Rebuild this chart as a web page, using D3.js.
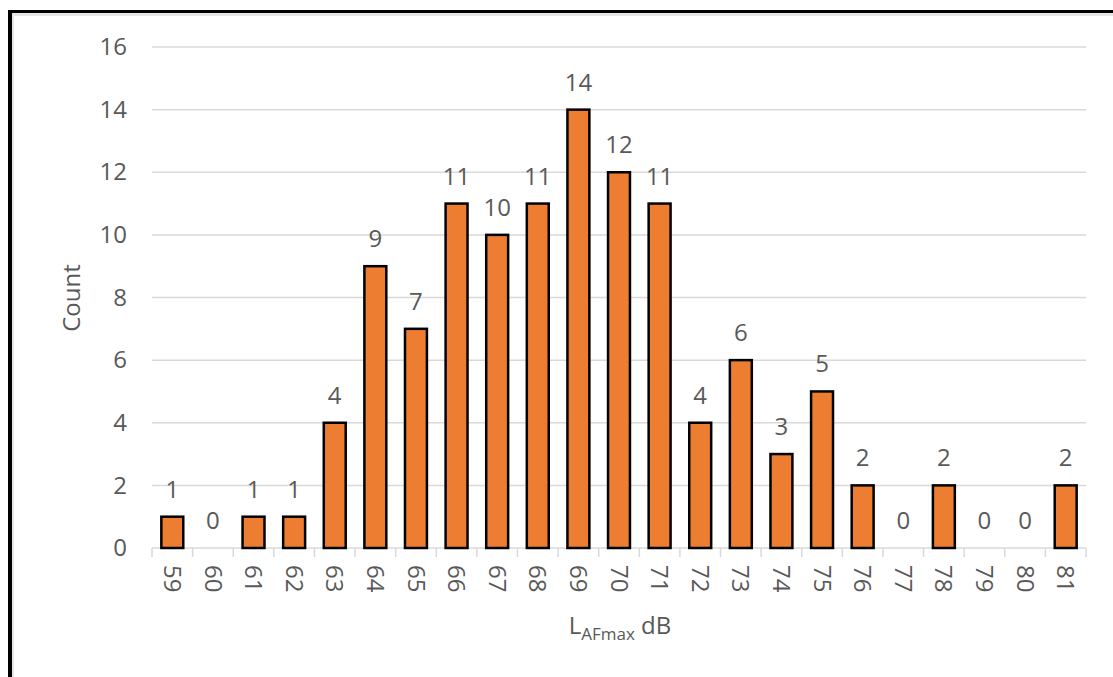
<!DOCTYPE html>
<html>
<head>
<meta charset="utf-8">
<script src="https://cdn.jsdelivr.net/npm/d3@7"></script>
<style>
  html, body { margin: 0; padding: 0; background: #fff; }
  svg { display: block; }
  text { font-family: "Open Sans", "Noto Sans", sans-serif; fill: #595959; }
</style>
</head>
<body>
<svg id="chart" width="1113" height="677"></svg>
<script>
// Histogram of maximum A-weighted fast sound levels
const levels = ["59","60","61","62","63","64","65","66","67","68","69","70","71","72","73","74","75","76","77","78","79","80","81"];
const counts = [1,0,1,1,4,9,7,11,10,11,14,12,11,4,6,3,5,2,0,2,0,0,2];
const yTicks = [0,2,4,6,8,10,12,14,16];

const svg = d3.select("#chart");
const W = 1113, H = 677;
const margin = { left: 152, right: W - 1086, top: 47, bottom: H - 548 };
const fs = "24px";

// outer frame with soft shadow on its inner edge
svg.append("line").attr("x1", 12.5).attr("x2", 12.5).attr("y1", 13).attr("y2", H)
  .attr("stroke", "#e6e6e6").attr("stroke-width", 3);
svg.append("line").attr("x1", 12).attr("x2", W).attr("y1", 14.5).attr("y2", 14.5)
  .attr("stroke", "#e6e6e6").attr("stroke-width", 3);
svg.append("line").attr("x1", 10).attr("x2", 10).attr("y1", 10).attr("y2", H)
  .attr("stroke", "#000").attr("stroke-width", 4);
svg.append("line").attr("x1", 8).attr("x2", W).attr("y1", 11.5).attr("y2", 11.5)
  .attr("stroke", "#000").attr("stroke-width", 3);

const x = d3.scaleBand().domain(levels)
  .range([margin.left, W - margin.right]).paddingInner(0.46).paddingOuter(0.23);
const y = d3.scaleLinear().domain([0, 16]).range([H - margin.bottom, margin.top]);

// horizontal gridlines
svg.append("g").selectAll("line").data(yTicks.filter(d => d > 0)).join("line")
  .attr("x1", margin.left).attr("x2", W - margin.right)
  .attr("y1", d => y(d)).attr("y2", d => y(d))
  .attr("stroke", "#d9d9d9").attr("stroke-width", 1.5);

// y axis labels
const yAxis = d3.axisLeft(y).tickValues(yTicks).tickSize(0).tickPadding(25);
const gy = svg.append("g").attr("transform", `translate(${margin.left},0)`).call(yAxis);
gy.select(".domain").remove();
gy.selectAll("text").style("font-size", fs).attr("fill", "#595959");

// category axis with tick marks between bars
const base = y(0);
svg.append("line").attr("x1", margin.left).attr("x2", W - margin.right)
  .attr("y1", base).attr("y2", base).attr("stroke", "#d9d9d9").attr("stroke-width", 1.5);
const step = x.step();
const edges = d3.range(levels.length + 1).map(i => margin.left + i * step);
svg.append("g").selectAll("line").data(edges).join("line")
  .attr("x1", d => d).attr("x2", d => d).attr("y1", base).attr("y2", base + 9)
  .attr("stroke", "#d9d9d9").attr("stroke-width", 1.5);

svg.append("g").selectAll("text").data(levels).join("text")
  .attr("transform", d => `translate(${x(d) + x.bandwidth() / 2},${base + 17}) rotate(90)`)
  .attr("text-anchor", "start").attr("dy", "0.35em")
  .style("font-size", fs).text(d => d);

// bars
svg.append("g").selectAll("rect").data(levels).join("rect")
  .attr("x", d => x(d)).attr("width", x.bandwidth())
  .attr("y", (d, i) => y(counts[i])).attr("height", (d, i) => base - y(counts[i]))
  .attr("fill", "#ED7D31").attr("stroke", "#000").attr("stroke-width", 2.5)
  .style("display", (d, i) => counts[i] > 0 ? null : "none");

// value labels
svg.append("g").selectAll("text").data(levels).join("text")
  .attr("x", d => x(d) + x.bandwidth() / 2)
  .attr("y", (d, i) => y(counts[i]) - 19)
  .attr("text-anchor", "middle").style("font-size", fs)
  .text((d, i) => counts[i]);

// axis titles
const xt = svg.append("text").attr("x", 620).attr("y", 634).attr("text-anchor", "middle")
  .style("font-size", fs);
xt.append("tspan").text("L");
xt.append("tspan").attr("dy", 6).style("font-size", "17px").text("AFmax");
xt.append("tspan").attr("dy", -6).text(" dB");

svg.append("text").attr("transform", "translate(80,298) rotate(-90)")
  .attr("text-anchor", "middle").style("font-size", fs).text("Count");
</script>
</body>
</html>
